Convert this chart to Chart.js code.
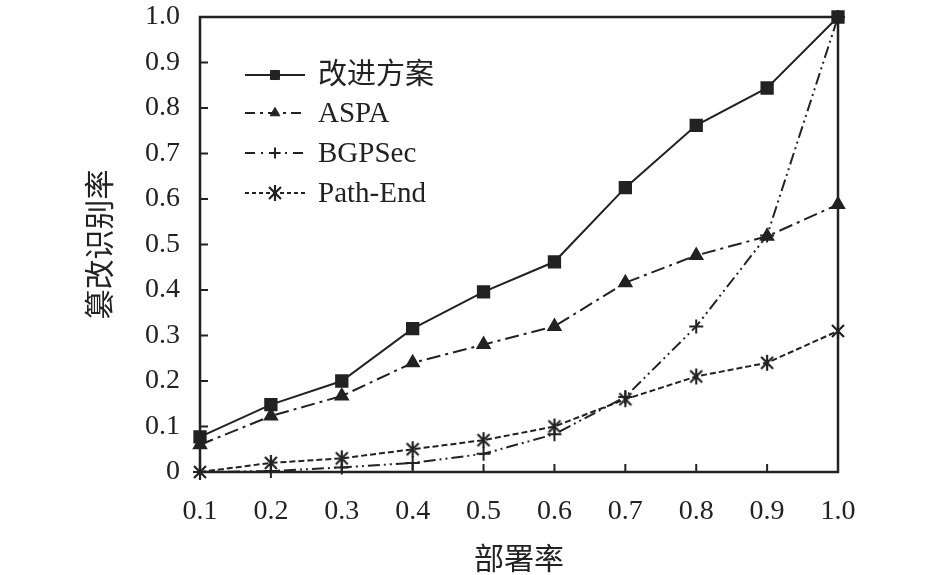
<!DOCTYPE html>
<html>
<head>
<meta charset="utf-8">
<script src="https://cdn.jsdelivr.net/npm/chart.js@4"></script>
<style>
  html, body { margin: 0; padding: 0; background: #fff; }
  #wrap { width: 945px; height: 575px; }
</style>
</head>
<body>
<div id="wrap"><canvas id="c" width="945" height="575"></canvas></div>
<script>
// 部署率
const rates = ['0.1', '0.2', '0.3', '0.4', '0.5', '0.6', '0.7', '0.8', '0.9', '1.0'];
const yTicks = [0, 0.1, 0.2, 0.3, 0.4, 0.5, 0.6, 0.7, 0.8, 0.9, 1.0];

// 篡改识别率
const improved = [0.077, 0.148, 0.2, 0.315, 0.396, 0.462, 0.625, 0.762, 0.844, 1.0];
const aspa = [0.06, 0.123, 0.167, 0.24, 0.28, 0.32, 0.416, 0.476, 0.518, 0.588];
const bgpsec = [0, 0.002, 0.01, 0.02, 0.04, 0.083, 0.165, 0.32, 0.52, 1.0];
const pathEnd = [0, 0.02, 0.03, 0.05, 0.07, 0.1, 0.16, 0.21, 0.24, 0.31];

const INK = '#222';
const FONT = '"Liberation Serif", "Noto Sans CJK SC", serif';

// 星号标记（X 加竖线）
function makeAsterisk() {
  const c = document.createElement('canvas');
  c.width = 18; c.height = 18;
  const g = c.getContext('2d');
  g.strokeStyle = INK;
  g.lineWidth = 2.2;
  g.beginPath();
  g.moveTo(3, 3); g.lineTo(15, 15);
  g.moveTo(15, 3); g.lineTo(3, 15);
  g.moveTo(9, 1); g.lineTo(9, 17);
  g.stroke();
  return c;
}
const asterisk = makeAsterisk();

// 外框 + 向内刻度
const framePlugin = {
  id: 'frame',
  afterDraw(chart) {
    const { ctx, chartArea: a, scales } = chart;
    ctx.save();
    ctx.strokeStyle = INK;
    ctx.lineWidth = 2.5;
    ctx.strokeRect(a.left, a.top, a.right - a.left, a.bottom - a.top);
    ctx.lineWidth = 2;
    ctx.beginPath();
    yTicks.forEach(v => {
      const y = scales.y.getPixelForValue(v);
      ctx.moveTo(a.left, y); ctx.lineTo(a.left + 8, y);
    });
    rates.forEach((r, i) => {
      const x = scales.x.getPixelForValue(i);
      ctx.moveTo(x, a.bottom); ctx.lineTo(x, a.bottom - 8);
    });
    ctx.stroke();
    ctx.restore();
  }
};

// 图例：线段 + 标记
const legendPlugin = {
  id: 'lineLegend',
  afterDraw(chart) {
    const ctx = chart.ctx;
    const rows = [75, 113, 153, 193];
    ctx.save();
    chart.data.datasets.forEach((ds, i) => {
      const y = rows[i];
      ctx.strokeStyle = INK;
      ctx.fillStyle = INK;
      ctx.lineWidth = 2;
      ctx.setLineDash(ds.legendDash || ds.borderDash || []);
      ctx.beginPath();
      ctx.moveTo(245, y); ctx.lineTo(305, y);
      ctx.stroke();
      ctx.setLineDash([]);
      ctx.lineWidth = ds.pointBorderWidth || 1;
      Chart.helpers.drawPoint(ctx, {
        pointStyle: ds.pointStyle,
        radius: ds.pointRadius * 0.8,
        rotation: 0,
        borderWidth: ds.pointBorderWidth || 1
      }, 275, y);
      ctx.font = '29px ' + FONT;
      ctx.textBaseline = 'middle';
      ctx.fillText(ds.label, 318, y + 1);
    });
    ctx.restore();
  }
};

const common = {
  borderColor: INK,
  backgroundColor: INK,
  pointBorderColor: INK,
  pointBackgroundColor: INK,
  borderWidth: 2,
  tension: 0,
  clip: false
};

new Chart(document.getElementById('c'), {
  type: 'line',
  data: {
    labels: rates,
    datasets: [
      { ...common, label: '改进方案', data: improved, pointStyle: 'rect', pointRadius: 8 },
      { ...common, label: 'ASPA', data: aspa, borderDash: [14, 5, 3, 5], legendDash: [10, 5, 3, 5], pointStyle: 'triangle', pointRadius: 7 },
      { ...common, label: 'BGPSec', data: bgpsec, borderDash: [12, 4, 2, 4, 2, 4], legendDash: [10, 6, 2, 6], pointStyle: 'cross', pointRadius: 7, pointBorderWidth: 2 },
      { ...common, label: 'Path-End', data: pathEnd, borderDash: [6, 3], legendDash: [4, 3], pointStyle: asterisk, pointRadius: 8 }
    ]
  },
  options: {
    responsive: false,
    animation: false,
    devicePixelRatio: 1,
    layout: { padding: { top: 1, right: 107, left: 84, bottom: -4 } },
    plugins: { legend: { display: false }, tooltip: { enabled: false } },
    scales: {
      x: {
        offset: false,
        grid: { display: false, drawTicks: false },
        border: { display: false },
        ticks: { color: INK, font: { family: FONT, size: 28 }, padding: 23, maxRotation: 0 },
        title: { display: true, text: '部署率', color: INK, font: { family: FONT, size: 30 }, padding: { top: 6, bottom: 0 } },
        afterFit(s) { s.height = 107; }
      },
      y: {
        min: 0, max: 1,
        grid: { display: false, drawTicks: false },
        border: { display: false },
        afterBuildTicks(s) { s.ticks = yTicks.map(v => ({ value: v })); },
        ticks: {
          color: INK, font: { family: FONT, size: 28 }, padding: 20,
          callback: v => (v === 0 ? '0' : v.toFixed(1))
        },
        title: { display: true, text: '篡改识别率', color: INK, font: { family: FONT, size: 30 }, padding: 0 },
        afterFit(s) { s.width = 116; s.paddingTop = 17; s.paddingBottom = 17; }
      }
    }
  },
  plugins: [framePlugin, legendPlugin]
});
</script>
</body>
</html>
